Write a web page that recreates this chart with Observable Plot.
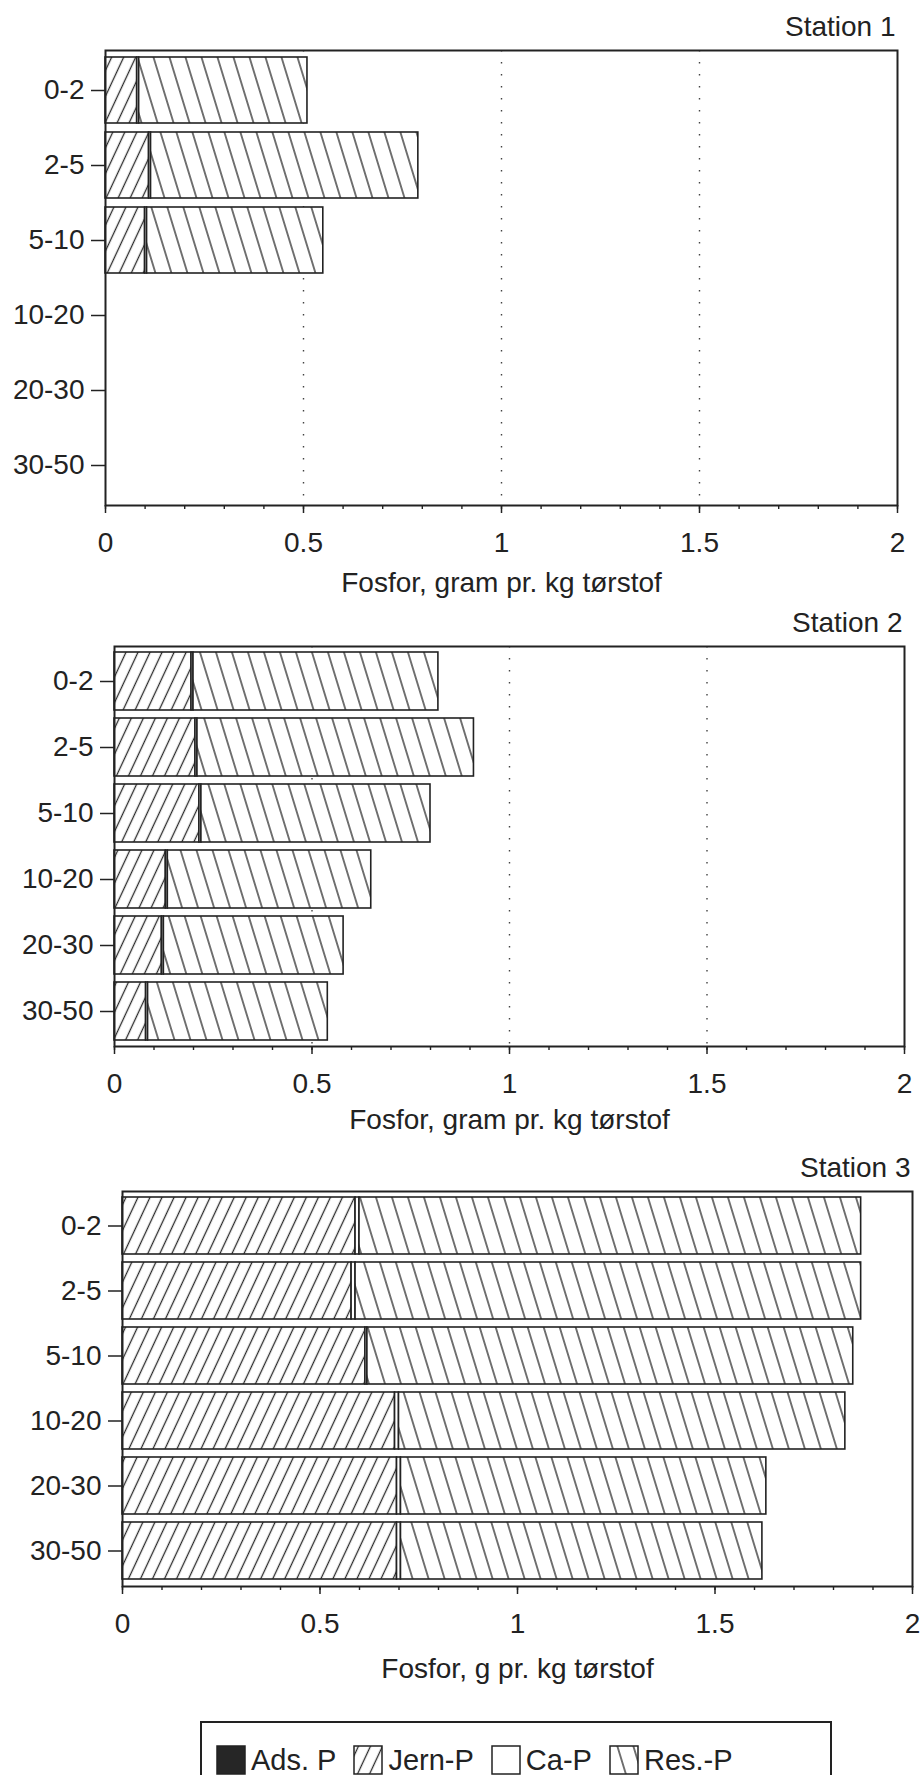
<!DOCTYPE html>
<html>
<head>
<meta charset="utf-8">
<script src="https://cdn.jsdelivr.net/npm/d3@7"></script>
<script src="https://cdn.jsdelivr.net/npm/@observablehq/plot@0.6"></script>
<style>
  html, body { margin: 0; padding: 0; background: #fff; }
  body {
    width: 924px; height: 1775px; position: relative; overflow: hidden;
    font-family: "Liberation Sans", Arial, Helvetica, sans-serif; color: #222;
  }
  .panel { position: absolute; left: 0; }
  .panel svg { display: block; overflow: visible; }
  #legend {
    position: absolute; left: 200px; top: 1721px; width: 632px; height: 90px;
    box-sizing: border-box; border: 2px solid #222; padding: 22px 0 0 14px;
    display: flex; align-items: flex-start;
  }
  .item { display: flex; align-items: center; height: 30px; margin-right: 17px; }
  .item svg { display: block; margin-right: 5px; }
  .item span { font-size: 29px; line-height: 30px; white-space: nowrap; }
</style>
</head>
<body>
<!-- hatch fills shared by the bars and the legend swatches -->
<svg width="0" height="0" style="position:absolute">
  <defs>
    <pattern id="hatch-jern" patternUnits="userSpaceOnUse" width="10.9" height="40" patternTransform="rotate(25)">
      <rect width="10.9" height="40" fill="#fff"/>
      <line x1="5.45" y1="0" x2="5.45" y2="40" stroke="#2a2a2a" stroke-width="1.3"/>
    </pattern>
    <pattern id="hatch-res" patternUnits="userSpaceOnUse" width="15.3" height="40" patternTransform="rotate(-17)">
      <rect width="15.3" height="40" fill="#fff"/>
      <line x1="7.65" y1="0" x2="7.65" y2="40" stroke="#2a2a2a" stroke-width="1.3"/>
    </pattern>
  </defs>
</svg>
<div id="p1" class="panel" style="top:0px"></div>
<div id="p2" class="panel" style="top:600px"></div>
<div id="p3" class="panel" style="top:1145px"></div>
<div id="legend"></div>
<script>
// Sediment depth intervals (cm) and phosphorus fractions
const depths = ["0-2", "2-5", "5-10", "10-20", "20-30", "30-50"];
const components = ["Ads. P", "Jern-P", "Ca-P", "Res.-P"];
const fills = ["#262626", "url(#hatch-jern)", "#ffffff", "url(#hatch-res)"];
const xTicks = [0, 0.5, 1, 1.5, 2];

// Station 1 (only the upper 10 cm analysed), g P per kg dry matter
const st1Depths = ["0-2", "2-5", "5-10"];
const st1Ads  = [0, 0, 0];
const st1Jern = [0.08, 0.11, 0.10];
const st1Ca   = [0.005, 0.005, 0.005];
const st1Res  = [0.425, 0.675, 0.445];

// Station 2
const st2Depths = ["0-2", "2-5", "5-10", "10-20", "20-30", "30-50"];
const st2Ads  = [0, 0, 0, 0, 0, 0];
const st2Jern = [0.195, 0.205, 0.215, 0.13, 0.12, 0.08];
const st2Ca   = [0.005, 0.005, 0.005, 0.005, 0.005, 0.005];
const st2Res  = [0.62, 0.70, 0.58, 0.515, 0.455, 0.455];

// Station 3
const st3Depths = ["0-2", "2-5", "5-10", "10-20", "20-30", "30-50"];
const st3Ads  = [0, 0, 0, 0, 0, 0];
const st3Jern = [0.59, 0.58, 0.615, 0.69, 0.695, 0.695];
const st3Ca   = [0.01, 0.01, 0.005, 0.01, 0.01, 0.01];
const st3Res  = [1.27, 1.28, 1.23, 1.13, 0.925, 0.915];

function tidy(depthList, series) {
  const out = [];
  depthList.forEach((depth, i) => {
    components.forEach((comp, j) => {
      const value = series[j][i];
      if (value > 0) out.push({depth, comp, value});
    });
  });
  return out;
}

const font = '"Liberation Sans", Arial, Helvetica, sans-serif';

function panel(el, cfg) {
  const height = cfg.marginTop + cfg.innerHeight + cfg.marginBottom;
  const chart = Plot.plot({
    width: 924,
    height,
    marginTop: cfg.marginTop,
    marginBottom: cfg.marginBottom,
    marginLeft: cfg.marginLeft,
    marginRight: cfg.marginRight,
    style: {fontFamily: font, fontSize: "28px", color: "#222", background: "transparent", overflow: "visible"},
    x: {domain: [0, 2]},
    y: {domain: depths, paddingInner: 0.12, paddingOuter: 0.07},
    color: {domain: components, range: fills},
    marks: [
      cfg.grid ? Plot.gridX([0.5, 1, 1.5], {stroke: "#222", strokeOpacity: 0.85, strokeWidth: 1.4, strokeDasharray: "1.4,10.6"}) : null,
      Plot.barX(cfg.data, {x: "value", y: "depth", fill: "comp", order: components, stroke: "#222", strokeWidth: 1.6}),
      Plot.frame({stroke: "#222", strokeWidth: 2}),
      Plot.axisY({tickSize: 14, tickPadding: 7, fontSize: 28, label: null, strokeWidth: 1.5}),
      Plot.axisX(d3.range(0, 2.0001, 0.1), {tickSize: 4, text: null, label: null, strokeWidth: 1.4}),
      Plot.axisX(xTicks, {tickSize: 8, tickPadding: 19, tickFormat: d => String(d), fontSize: 28, label: null, strokeWidth: 1.5}),
      Plot.text([cfg.title], {frameAnchor: "top-right", lineAnchor: "bottom", dy: -15, dx: -2, fontSize: 28}),
      Plot.text([cfg.xLabel], {frameAnchor: "bottom", lineAnchor: "bottom", dy: cfg.labelDy, fontSize: 28})
    ]
  });
  document.getElementById(el).append(chart);
}

panel("p1", {
  title: "Station 1", xLabel: "Fosfor, gram pr. kg tørstof", grid: true,
  data: tidy(st1Depths, [st1Ads, st1Jern, st1Ca, st1Res]),
  marginTop: 50, innerHeight: 455, marginBottom: 95, marginLeft: 105, marginRight: 27, labelDy: 86
});
panel("p2", {
  title: "Station 2", xLabel: "Fosfor, gram pr. kg tørstof", grid: true,
  data: tidy(st2Depths, [st2Ads, st2Jern, st2Ca, st2Res]),
  marginTop: 46, innerHeight: 400, marginBottom: 99, marginLeft: 114, marginRight: 20, labelDy: 82
});
panel("p3", {
  title: "Station 3", xLabel: "Fosfor, g pr. kg tørstof", grid: false,
  data: tidy(st3Depths, [st3Ads, st3Jern, st3Ca, st3Res]),
  marginTop: 46, innerHeight: 395, marginBottom: 102, marginLeft: 122, marginRight: 12, labelDy: 91
});

// Legend of the four phosphorus fractions
const legend = document.getElementById("legend");
components.forEach((comp, i) => {
  const item = document.createElement("div");
  item.className = "item";
  item.innerHTML =
    `<svg width="30" height="30"><rect x="1" y="1" width="28" height="28" fill="${fills[i]}" stroke="#222" stroke-width="1.5"/></svg>` +
    `<span>${comp}</span>`;
  legend.append(item);
});
</script>
</body>
</html>
